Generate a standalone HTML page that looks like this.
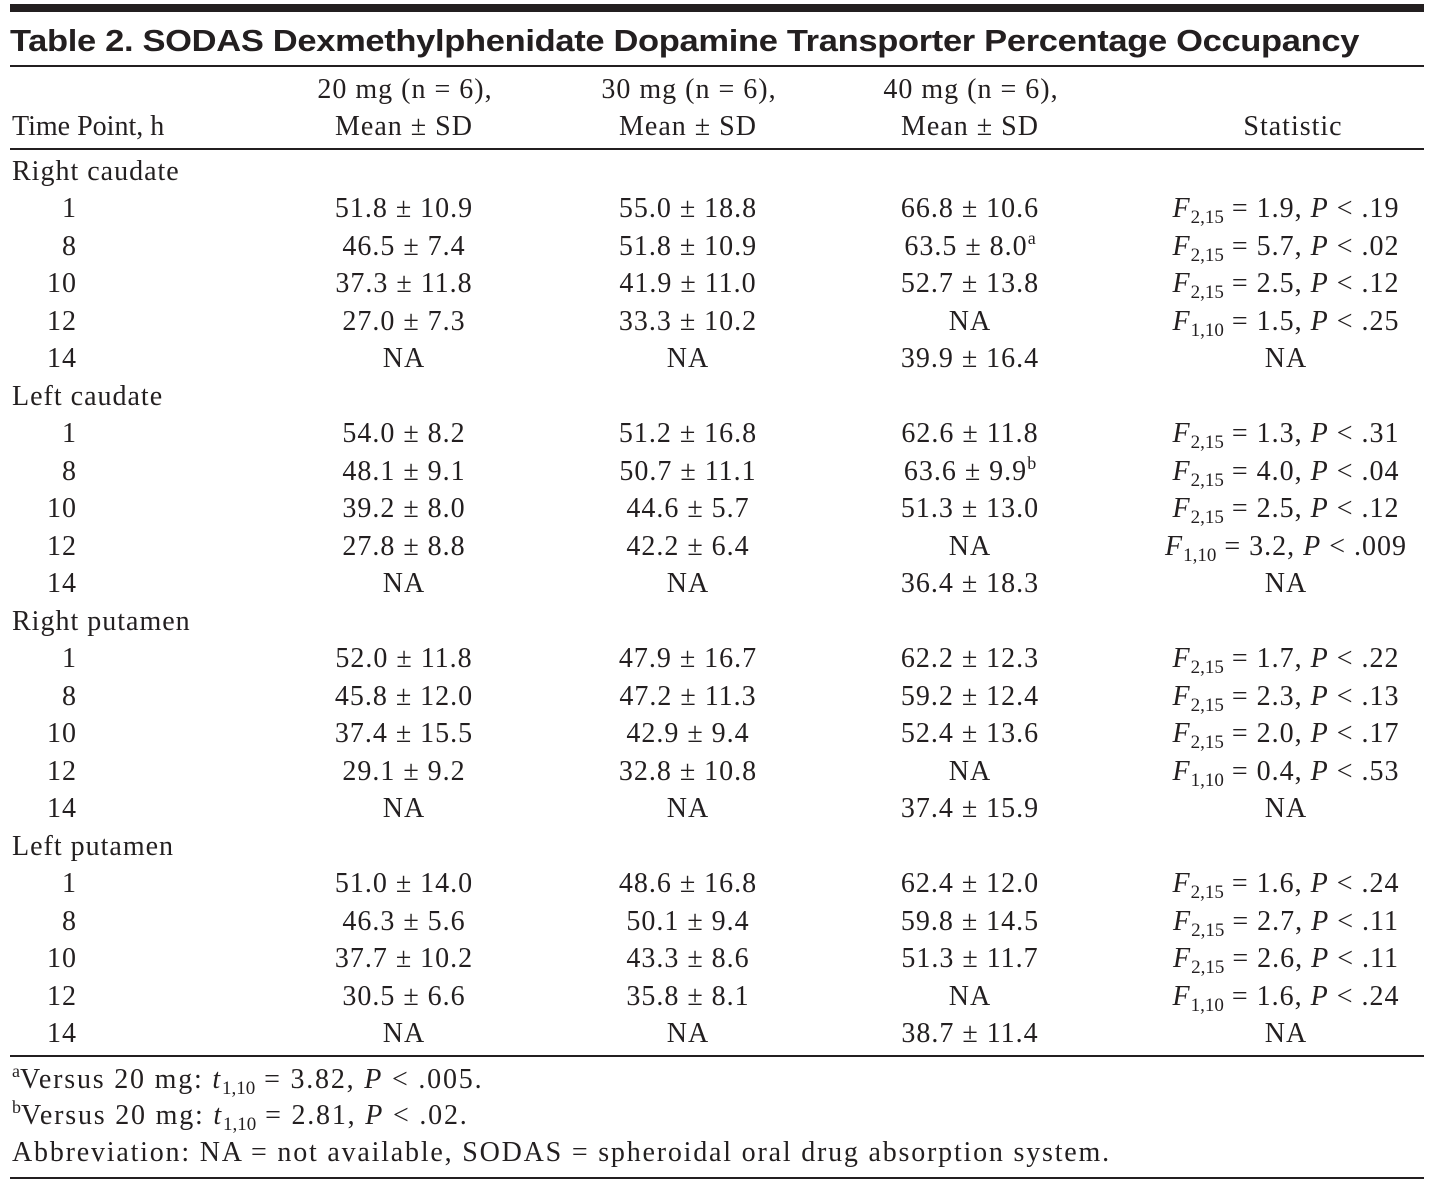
<!DOCTYPE html>
<html><head><meta charset="utf-8"><style>
body{margin:0;background:#fff;}
#pg{position:relative;width:1434px;height:1183px;overflow:hidden;background:#fff;color:#231f20;font-family:"Liberation Serif",serif;font-size:28px;letter-spacing:1px;}
.t{position:absolute;white-space:nowrap;line-height:1;}
.c{transform:translateX(-50%);}
.rt{transform:translateX(-100%);}
sub{font-size:19px;vertical-align:-6px;line-height:0;letter-spacing:0;}
sup{font-size:18px;vertical-align:11px;line-height:0;letter-spacing:0;}
.rule{position:absolute;left:10px;width:1414px;background:#231f20;}
.fn{letter-spacing:1.8px;}
</style></head><body>
<div id="pg">
<div class="rule" style="top:4px;height:8px"></div>
<div class="t" style="left:10px;top:25px;font-family:'Liberation Sans',sans-serif;font-weight:bold;font-size:31px;letter-spacing:-0.3px;transform:scaleX(1.113);transform-origin:0 0">Table 2. SODAS Dexmethylphenidate Dopamine Transporter Percentage Occupancy</div>
<div class="rule" style="top:65px;height:2px"></div>
<div class="t c" style="left:405px;top:76px">20 mg (n = 6),</div>
<div class="t c" style="left:689px;top:76px">30 mg (n = 6),</div>
<div class="t c" style="left:971px;top:76px">40 mg (n = 6),</div>
<div class="t" style="left:12px;top:113px;letter-spacing:0">Time Point, h</div>
<div class="t c" style="left:404px;top:113px">Mean ± SD</div>
<div class="t c" style="left:688px;top:113px">Mean ± SD</div>
<div class="t c" style="left:970px;top:113px">Mean ± SD</div>
<div class="t c" style="left:1293px;top:113px">Statistic</div>
<div class="rule" style="top:148px;height:2px"></div>
<div id="body"></div>
<div class="rule" style="top:1055px;height:2px"></div>
<div class="t fn" style="left:12px;top:1066px"><sup>a</sup>Versus 20 mg: <i>t</i><sub>1,10</sub> = 3.82, <i>P</i> &lt; .005.</div>
<div class="t fn" style="left:12px;top:1102px"><sup>b</sup>Versus 20 mg: <i>t</i><sub>1,10</sub> = 2.81, <i>P</i> &lt; .02.</div>
<div class="t fn" style="left:12px;top:1139px">Abbreviation: NA = not available, SODAS = spheroidal oral drug absorption system.</div>
<div class="rule" style="top:1177px;height:2px"></div>
</div>
<script>
const regions=["Right caudate","Left caudate","Right putamen","Left putamen"];
const times=["1","8","10","12","14"];
const col20=[["51.8 ± 10.9","46.5 ± 7.4","37.3 ± 11.8","27.0 ± 7.3","NA"],["54.0 ± 8.2","48.1 ± 9.1","39.2 ± 8.0","27.8 ± 8.8","NA"],["52.0 ± 11.8","45.8 ± 12.0","37.4 ± 15.5","29.1 ± 9.2","NA"],["51.0 ± 14.0","46.3 ± 5.6","37.7 ± 10.2","30.5 ± 6.6","NA"]];
const col30=[["55.0 ± 18.8","51.8 ± 10.9","41.9 ± 11.0","33.3 ± 10.2","NA"],["51.2 ± 16.8","50.7 ± 11.1","44.6 ± 5.7","42.2 ± 6.4","NA"],["47.9 ± 16.7","47.2 ± 11.3","42.9 ± 9.4","32.8 ± 10.8","NA"],["48.6 ± 16.8","50.1 ± 9.4","43.3 ± 8.6","35.8 ± 8.1","NA"]];
const col40=[["66.8 ± 10.6","63.5 ± 8.0<sup>a</sup>","52.7 ± 13.8","NA","39.9 ± 16.4"],["62.6 ± 11.8","63.6 ± 9.9<sup>b</sup>","51.3 ± 13.0","NA","36.4 ± 18.3"],["62.2 ± 12.3","59.2 ± 12.4","52.4 ± 13.6","NA","37.4 ± 15.9"],["62.4 ± 12.0","59.8 ± 14.5","51.3 ± 11.7","NA","38.7 ± 11.4"]];
const stats=[["2,15|1.9|.19","2,15|5.7|.02","2,15|2.5|.12","1,10|1.5|.25","NA"],["2,15|1.3|.31","2,15|4.0|.04","2,15|2.5|.12","1,10|3.2|.009","NA"],["2,15|1.7|.22","2,15|2.3|.13","2,15|2.0|.17","1,10|0.4|.53","NA"],["2,15|1.6|.24","2,15|2.7|.11","2,15|2.6|.11","1,10|1.6|.24","NA"]];
const body=document.getElementById('body');
function cell(x,top,html,cls,name){
  const d=document.createElement('div');
  d.className='t '+cls;
  d.style.left=x+'px';d.style.top=top+'px';
  d.innerHTML=html;
  
  
  body.appendChild(d);
}
let row=0;const y0=158,step=37.48;
regions.forEach((reg,ri)=>{
  cell(12,y0+row*step,reg,'','region-label');row++;
  times.forEach((tm,ti)=>{
    const top=y0+row*step;
    cell(77,top,tm,'rt','time-point');
    cell(404,top,col20[ri][ti],'c','value-20mg');
    cell(688,top,col30[ri][ti],'c','value-30mg');
    cell(970,top,col40[ri][ti],'c','value-40mg');
    const s=stats[ri][ti];
    let h='NA';
    if(s!=='NA'){const p=s.split('|');h=`<i>F</i><sub>${p[0]}</sub> = ${p[1]}, <i>P</i> &lt; ${p[2]}`;}
    cell(1286,top,h,'c','statistic-value');
    row++;
  });
});
</script>
</body></html>
